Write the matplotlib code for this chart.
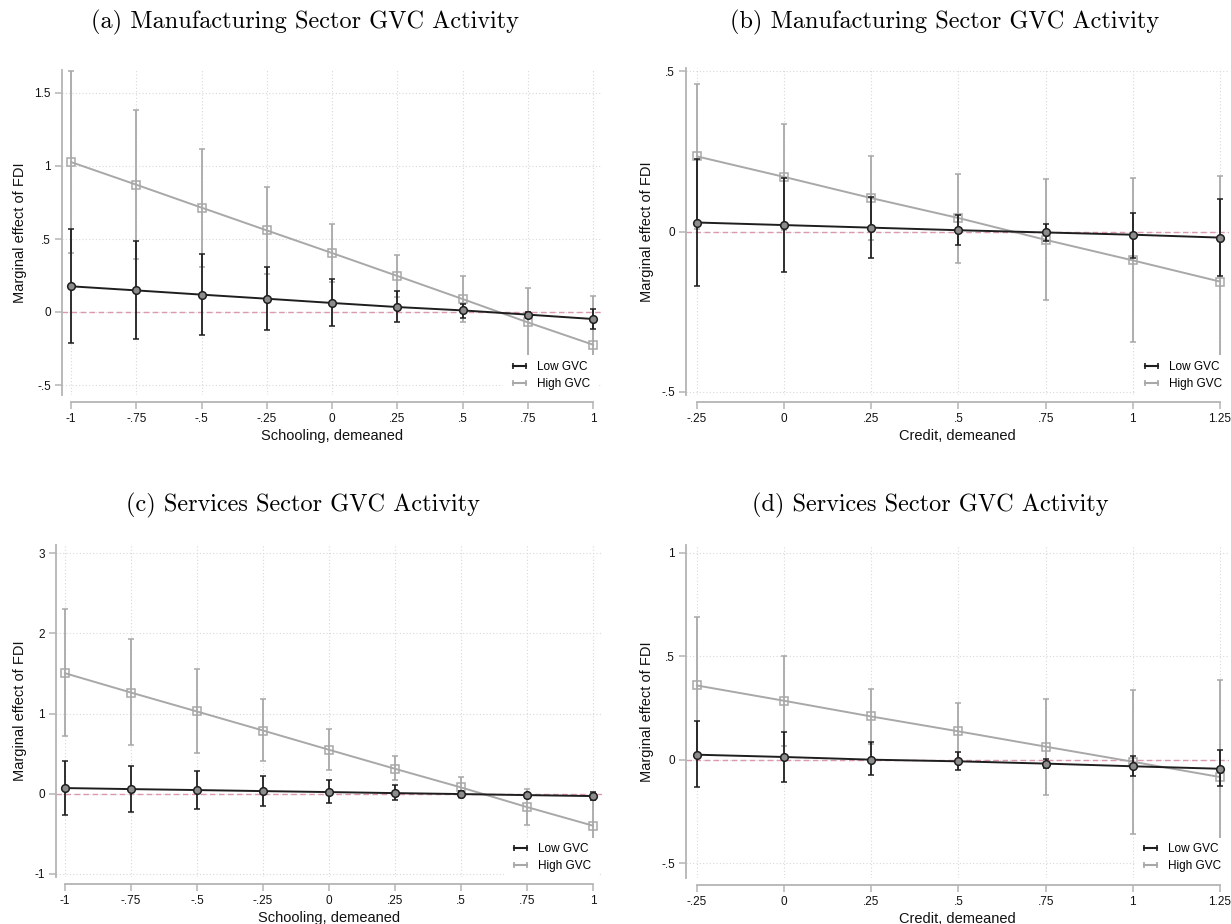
import numpy as np
import matplotlib
matplotlib.use("Agg")
import matplotlib.pyplot as plt
from matplotlib.lines import Line2D
from matplotlib.patches import Rectangle

plt.rcParams['font.family'] = ['Liberation Sans', 'DejaVu Sans']

W, H = 1231, 924

# ---------------- data ----------------
x_school = [-1, -0.75, -0.5, -0.25, 0, 0.25, 0.5, 0.75, 1]
x_credit = [-0.25, 0, 0.25, 0.5, 0.75, 1, 1.25]
school_labels = ['-1', '-.75', '-.5', '-.25', '0', '.25', '.5', '.75', '1']
credit_labels = ['-.25', '0', '.25', '.5', '.75', '1', '1.25']

# (a) manufacturing, schooling
a_low = [0.176, 0.148, 0.119, 0.091, 0.062, 0.034, 0.011, -0.018, -0.048]
a_low_lo = [-0.212, -0.183, -0.155, -0.126, -0.096, -0.068, -0.039, -0.038, -0.114]
a_low_hi = [0.566, 0.484, 0.400, 0.308, 0.228, 0.144, 0.057, 0.002, 0.023]
a_high = [1.027, 0.872, 0.715, 0.559, 0.404, 0.247, 0.089, -0.071, -0.224]
a_high_lo = [0.407, 0.363, 0.311, 0.262, 0.203, 0.106, -0.066, -0.300, -0.555]
a_high_hi = [1.648, 1.381, 1.119, 0.856, 0.605, 0.388, 0.244, 0.167, 0.107]

# (b) manufacturing, credit
b_low = [0.028, 0.020, 0.012, 0.004, -0.003, -0.010, -0.019]
b_low_lo = [-0.171, -0.126, -0.083, -0.041, -0.030, -0.081, -0.138]
b_low_hi = [0.227, 0.166, 0.107, 0.051, 0.024, 0.059, 0.102]
b_high = [0.234, 0.170, 0.104, 0.042, -0.026, -0.090, -0.156]
b_high_lo = [0.009, 0.005, -0.026, -0.099, -0.213, -0.345, -0.486]
b_high_hi = [0.459, 0.335, 0.234, 0.180, 0.163, 0.166, 0.174]

# (c) services, schooling
c_low = [0.071, 0.058, 0.046, 0.033, 0.021, 0.008, -0.004, -0.017, -0.029]
c_low_lo = [-0.266, -0.232, -0.191, -0.158, -0.116, -0.075, -0.041, -0.047, -0.079]
c_low_hi = [0.411, 0.349, 0.286, 0.224, 0.166, 0.104, 0.033, 0.013, 0.021]
c_high = [1.502, 1.261, 1.025, 0.788, 0.548, 0.311, 0.079, -0.166, -0.398]
c_high_lo = [0.714, 0.610, 0.506, 0.402, 0.299, 0.166, -0.049, -0.386, -0.720]
c_high_hi = [2.299, 1.925, 1.552, 1.178, 0.809, 0.465, 0.207, 0.058, -0.080]

# (d) services, credit
d_low = [0.024, 0.013, 0.000, -0.008, -0.019, -0.032, -0.044]
d_low_lo = [-0.134, -0.106, -0.076, -0.052, -0.040, -0.081, -0.129]
d_low_hi = [0.185, 0.134, 0.084, 0.035, 0.002, 0.016, 0.045]
d_high = [0.359, 0.285, 0.209, 0.137, 0.063, -0.010, -0.084]
d_high_lo = [0.029, 0.068, 0.078, 0.000, -0.169, -0.358, -0.555]
d_high_hi = [0.689, 0.501, 0.340, 0.274, 0.295, 0.335, 0.387]

titles = ['(a) Manufacturing Sector GVC Activity', '(b) Manufacturing Sector GVC Activity',
          '(c) Services Sector GVC Activity', '(d) Services Sector GVC Activity']

low_col = '#1e1e1e'
high_col = '#a8a8a8'
axis_col = '#b4b4b4'
grid_col = '#d8d8d8'
zero_col = '#dc98b0'


def box(l, t, r, b):
    return [l / W, 1 - b / H, (r - l) / W, (b - t) / H]


def panel(fig, pos, x, low, low_lo, low_hi, high, high_lo, high_hi,
          xlim, ylim, yticks, ylabels, xlabels, xlab, leg_xy, cover):
    ax = fig.add_axes(box(*pos))
    x = np.array(x)
    ax.set_xlim(xlim)
    ax.set_ylim(ylim)

    for xv in x:
        ax.axvline(xv, color=grid_col, lw=0.8, ls=(0, (1, 2)), zorder=0)
    for yv in yticks:
        ax.axhline(yv, color=grid_col, lw=0.8, ls=(0, (1, 2)), zorder=0)
    ax.axhline(0, color=zero_col, lw=1.0, ls=(0, (4, 2.5)), zorder=1)

    high = np.array(high)
    low = np.array(low)
    ax.errorbar(x, high, yerr=[high - np.array(high_lo), np.array(high_hi) - high],
                fmt='none', ecolor=high_col, elinewidth=1.3, capsize=2.5, capthick=1.1, zorder=2)
    ax.plot(x, high, color=high_col, lw=1.4, marker='s', ms=5.5, mfc='none',
            mec=high_col, mew=1.1, zorder=3)
    ax.errorbar(x, low, yerr=[low - np.array(low_lo), np.array(low_hi) - low],
                fmt='none', ecolor=low_col, elinewidth=1.3, capsize=2.5, capthick=1.1, zorder=4)
    ax.plot(x, low, color=low_col, lw=1.4, marker='o', ms=5.5, mfc='#8c8c8c',
            mec=low_col, mew=1.1, zorder=5)

    ax.set_xticks(x)
    ax.set_xticklabels(xlabels)
    ax.set_yticks(yticks)
    ax.set_yticklabels(ylabels)
    ax.tick_params(colors=axis_col, labelcolor='#111111', labelsize=8.5, length=5, width=1.1, pad=3)

    for s in ['top', 'right']:
        ax.spines[s].set_visible(False)
    ax.spines['left'].set_color(axis_col)
    ax.spines['left'].set_linewidth(1.3)
    ax.spines['bottom'].set_color(axis_col)
    ax.spines['bottom'].set_linewidth(1.3)
    ax.spines['bottom'].set_bounds(x[0], x[-1])
    ax.spines['bottom'].set_position(('outward', 5))

    ax.set_xlabel(xlab, fontsize=10.5, labelpad=3, color='#111111')
    ax.set_ylabel('Marginal effect of FDI', fontsize=10.5, labelpad=5, color='#111111')

    # stata legend sits on a white box that hides what is behind it
    l, t, r, b = cover
    ax.add_patch(Rectangle((l / W, 1 - b / H), (r - l) / W, (b - t) / H,
                           transform=fig.transFigure, facecolor='white', edgecolor='none',
                           zorder=9, clip_on=False))

    handles = [Line2D([], [], color=low_col, lw=1.5, marker='|', ms=5, mew=1.2),
               Line2D([], [], color=high_col, lw=1.5, marker='|', ms=5, mew=1.2)]
    leg = ax.legend(handles, ['Low GVC', 'High GVC'], loc='center left',
                    bbox_to_anchor=(leg_xy[0] / W, 1 - leg_xy[1] / H), bbox_transform=fig.transFigure,
                    numpoints=2, fontsize=8.5, frameon=False, borderpad=0, borderaxespad=0,
                    handlelength=1.7, handletextpad=0.65, labelspacing=0.44)
    leg.set_zorder(10)
    return ax


fig = plt.figure(figsize=(W / 100, H / 100), dpi=100)

# (a)
pu, py = 261.0, 146.0
panel(fig, (62, 70, 602, 395), x_school, a_low, a_low_lo, a_low_hi, a_high, a_high_lo, a_high_hi,
      (-1 - 9 / pu, 1 + 9 / pu), (-0.5 - 10 / py, 1.5 + 23 / py),
      [-0.5, 0, 0.5, 1, 1.5], ['-.5', '0', '.5', '1', '1.5'], school_labels,
      'Schooling, demeaned', (509, 375.5), (503, 355, 598, 395))

# (b)
pu, py = 348.7, 321.0
panel(fig, (686, 68, 1229, 395), x_credit, b_low, b_low_lo, b_low_hi, b_high, b_high_lo, b_high_hi,
      (-0.25 - 11 / pu, 1.25 + 9 / pu), (-0.5 - 3 / py, 0.5 + 3 / py),
      [-0.5, 0, 0.5], ['-.5', '0', '.5'], credit_labels,
      'Credit, demeaned', (1141, 375.5), (1135, 355, 1229, 395))

# (c)
pu, py = 264.0, 80.25
panel(fig, (56, 545, 602, 877), x_school, c_low, c_low_lo, c_low_hi, c_high, c_high_lo, c_high_hi,
      (-1 - 9 / pu, 1 + 9 / pu), (-1 - 3 / py, 3 + 8 / py),
      [-1, 0, 1, 2, 3], ['-1', '0', '1', '2', '3'], school_labels,
      'Schooling, demeaned', (510, 857.7), (504, 838, 598, 877))

# (d)
pu, py = 348.7, 206.9
panel(fig, (686, 545, 1229, 878), x_credit, d_low, d_low_lo, d_low_hi, d_high, d_high_lo, d_high_hi,
      (-0.25 - 11 / pu, 1.25 + 9 / pu), (-0.5 - 15 / py, 1 + 8 / py),
      [-0.5, 0, 0.5, 1], ['-.5', '0', '.5', '1'], credit_labels,
      'Credit, demeaned', (1140, 857.7), (1136, 838, 1229, 878))

# panel titles in a Computer Modern look
for (tx, ty), t in zip([(305, 22), (945, 22), (303, 505), (930, 505)], titles):
    fig.text(tx / W, 1 - ty / H, t, fontfamily='cmr10', fontsize=17.5, ha='center', va='center')

fig.savefig('out.png', dpi=100)
